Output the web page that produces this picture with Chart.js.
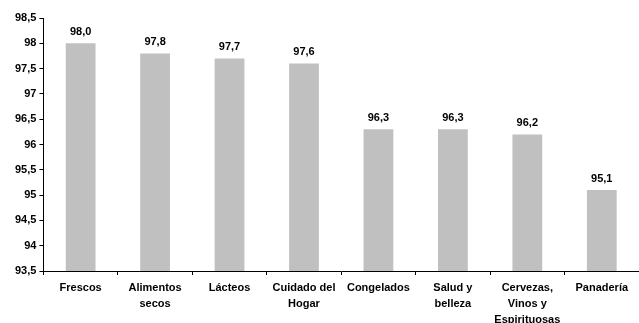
<!DOCTYPE html>
<html>
<head>
<meta charset="utf-8">
<script src="https://cdn.jsdelivr.net/npm/chart.js@4/dist/chart.umd.min.js"></script>
<style>
  html, body { margin: 0; padding: 0; background: #fff; overflow: hidden; }
  #wrap { width: 639px; height: 323px; }
</style>
</head>
<body>
<div id="wrap"><canvas id="chart"></canvas></div>
<script>
const categories = [
  'Frescos',
  ['Alimentos', 'secos'],
  'Lácteos',
  ['Cuidado del', 'Hogar'],
  'Congelados',
  ['Salud y', 'belleza'],
  ['Cervezas,', 'Vinos y', 'Espirituosas'],
  'Panadería'
];
const values = [98.0, 97.8, 97.7, 97.6, 96.3, 96.3, 96.2, 95.1];
const yMin = 93.5;
const yMax = 98.5;
const yStep = 0.5;

const fmt = v => String(Math.round(v * 10) / 10).replace('.', ',');

// etiquetas de valor encima de cada barra
const valueLabels = {
  id: 'valueLabels',
  afterDatasetsDraw(chart) {
    const ctx = chart.ctx;
    const meta = chart.getDatasetMeta(0);
    ctx.save();
    ctx.font = 'bold 11px "Liberation Sans", Arial, sans-serif';
    ctx.fillStyle = '#000';
    ctx.textAlign = 'center';
    ctx.textBaseline = 'bottom';
    meta.data.forEach((bar, i) => {
      ctx.fillText(values[i].toFixed(1).replace('.', ','), bar.x, bar.y - 6);
    });
    ctx.restore();
  }
};

new Chart(document.getElementById('chart'), {
  type: 'bar',
  data: {
    labels: categories,
    datasets: [{
      data: values,
      backgroundColor: '#C0C0C0',
      borderWidth: 0,
      barPercentage: 0.4,
      categoryPercentage: 1
    }]
  },
  options: {
    responsive: true,
    maintainAspectRatio: false,
    animation: false,
    layout: { padding: { left: 12, right: 0, top: 18, bottom: 0 } },
    plugins: {
      legend: { display: false },
      tooltip: { enabled: false }
    },
    scales: {
      x: {
        grid: { drawOnChartArea: false, tickColor: '#000', tickLength: 4, offset: true },
        border: { color: '#000', width: 1 },
        ticks: {
          color: '#000',
          maxRotation: 0,
          autoSkip: false,
          padding: 5,
          font: { family: '"Liberation Sans", Arial, sans-serif', size: 11, weight: 'bold', lineHeight: 1.45 }
        },
        afterFit(scale) { scale.height = 52; }
      },
      y: {
        min: yMin,
        max: yMax,
        grid: { drawOnChartArea: false, tickColor: '#000', tickLength: 4 },
        border: { color: '#000', width: 1 },
        ticks: {
          stepSize: yStep,
          color: '#000',
          padding: 3,
          font: { family: '"Liberation Sans", Arial, sans-serif', size: 11, weight: 'bold' },
          callback: v => fmt(v)
        }
      }
    }
  },
  plugins: [valueLabels]
});
</script>
</body>
</html>
